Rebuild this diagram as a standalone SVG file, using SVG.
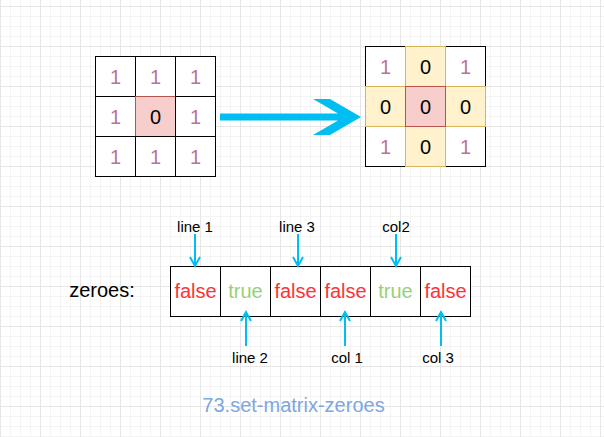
<svg xmlns="http://www.w3.org/2000/svg" width="604" height="437" viewBox="0 0 604 437">
<defs>
<pattern id="grid" x="0" y="6" width="40" height="40" patternUnits="userSpaceOnUse">
<path d="M10.5 0V40M20.5 0V40M30.5 0V40M0 10.5H40M0 20.5H40M0 30.5H40" stroke="#f4f4f4" stroke-width="1" fill="none"/>
<path d="M0.5 0V40M0 0.5H40" stroke="#e6e6e6" stroke-width="1" fill="none"/>
</pattern>
<marker id="open" viewBox="-10 -10 20 20" markerWidth="20" markerHeight="20" refX="0" refY="0" orient="auto" markerUnits="userSpaceOnUse" overflow="visible">
<path d="M-9,-5 L0,0 L-9,5" fill="none" stroke="#00BEF2" stroke-width="2"/>
</marker>
</defs>
<style>
.cell{fill:#ffffff;stroke:#000000;stroke-width:1}
.red{fill:#F8CECC;stroke:#B85450;stroke-width:1}
.yel{fill:#FFF2CC;stroke:#D6B656;stroke-width:1}
.t{font-family:"Liberation Sans",Arial,Helvetica,sans-serif;text-anchor:middle}
.num{font-size:20px}
.one{fill:#B5739D}
.zero{fill:#000000}
.f{font-size:20px;fill:#FF3333}
.tr{font-size:20px;fill:#97D077}
.lbl{font-size:15px;fill:#000000}
.conn{stroke:#00BEF2;stroke-width:2;fill:none}
</style>
<rect width="604" height="437" fill="#ffffff"/>
<rect width="604" height="437" fill="url(#grid)"/>

<g id="matrix-before">
<rect class="cell" x="95.5" y="56.5" width="40" height="40"/>
<rect class="cell" x="135.5" y="56.5" width="40" height="40"/>
<rect class="cell" x="175.5" y="56.5" width="40" height="40"/>
<rect class="cell" x="95.5" y="96.5" width="40" height="40"/>
<rect class="red" x="135.5" y="96.5" width="40" height="40"/>
<rect class="cell" x="175.5" y="96.5" width="40" height="40"/>
<rect class="cell" x="95.5" y="136.5" width="40" height="40"/>
<rect class="cell" x="135.5" y="136.5" width="40" height="40"/>
<rect class="cell" x="175.5" y="136.5" width="40" height="40"/>
<text class="t num one" x="115.5" y="83.5">1</text>
<text class="t num one" x="155.5" y="83.5">1</text>
<text class="t num one" x="195.5" y="83.5">1</text>
<text class="t num one" x="115.5" y="123.5">1</text>
<text class="t num zero" x="155.5" y="123.5">0</text>
<text class="t num one" x="195.5" y="123.5">1</text>
<text class="t num one" x="115.5" y="163.5">1</text>
<text class="t num one" x="155.5" y="163.5">1</text>
<text class="t num one" x="195.5" y="163.5">1</text>
</g>

<g id="big-arrow">
<polygon points="220,113.5 338,113.5 313,99 330,99 361,117 330,135 313,135 338,120.5 220,120.5" fill="#00BEF2"/>
</g>

<g id="matrix-after">
<rect class="cell" x="365.5" y="46.5" width="40" height="40"/>
<rect class="cell" x="445.5" y="46.5" width="40" height="40"/>
<rect class="cell" x="365.5" y="126.5" width="40" height="40"/>
<rect class="cell" x="445.5" y="126.5" width="40" height="40"/>
<rect class="yel" x="405.5" y="46.5" width="40" height="40"/>
<rect class="yel" x="365.5" y="86.5" width="40" height="40"/>
<rect class="yel" x="445.5" y="86.5" width="40" height="40"/>
<rect class="yel" x="405.5" y="126.5" width="40" height="40"/>
<rect class="red" x="405.5" y="86.5" width="40" height="40"/>
<text class="t num one" x="385.5" y="73.5">1</text>
<text class="t num zero" x="425.5" y="73.5">0</text>
<text class="t num one" x="465.5" y="73.5">1</text>
<text class="t num zero" x="385.5" y="113.5">0</text>
<text class="t num zero" x="425.5" y="113.5">0</text>
<text class="t num zero" x="465.5" y="113.5">0</text>
<text class="t num one" x="385.5" y="153.5">1</text>
<text class="t num zero" x="425.5" y="153.5">0</text>
<text class="t num one" x="465.5" y="153.5">1</text>
</g>

<g id="zeroes-label">
<text class="t" x="102" y="297" font-size="20" fill="#000000">zeroes:</text>
</g>

<g id="zeroes-array">
<rect class="cell" x="170.5" y="266.5" width="50" height="50"/>
<rect class="cell" x="220.5" y="266.5" width="50" height="50"/>
<rect class="cell" x="270.5" y="266.5" width="50" height="50"/>
<rect class="cell" x="320.5" y="266.5" width="50" height="50"/>
<rect class="cell" x="370.5" y="266.5" width="50" height="50"/>
<rect class="cell" x="420.5" y="266.5" width="50" height="50"/>
<text class="t f" x="195.5" y="298">false</text>
<text class="t tr" x="245.5" y="298">true</text>
<text class="t f" x="295.5" y="298">false</text>
<text class="t f" x="345.5" y="298">false</text>
<text class="t tr" x="395.5" y="298">true</text>
<text class="t f" x="445.5" y="298">false</text>
</g>

<g id="labels">
<text class="t lbl" x="195" y="232">line 1</text>
<text class="t lbl" x="297" y="232">line 3</text>
<text class="t lbl" x="396" y="232">col2</text>
<text class="t lbl" x="250" y="362.5">line 2</text>
<text class="t lbl" x="347" y="362.5">col 1</text>
<text class="t lbl" x="438" y="362.5">col 3</text>
</g>

<g id="connectors">
<line class="conn" x1="195" y1="234" x2="195" y2="266" marker-end="url(#open)"/>
<line class="conn" x1="298" y1="234" x2="298" y2="266" marker-end="url(#open)"/>
<line class="conn" x1="396" y1="234" x2="396" y2="266" marker-end="url(#open)"/>
<line class="conn" x1="246" y1="346" x2="246" y2="312" marker-end="url(#open)"/>
<line class="conn" x1="345" y1="346" x2="345" y2="312" marker-end="url(#open)"/>
<line class="conn" x1="441" y1="346" x2="441" y2="312" marker-end="url(#open)"/>
</g>

<g id="title">
<text class="t" x="293.5" y="412" font-size="20" fill="#7EA6E0">73.set-matrix-zeroes</text>
</g>
</svg>
